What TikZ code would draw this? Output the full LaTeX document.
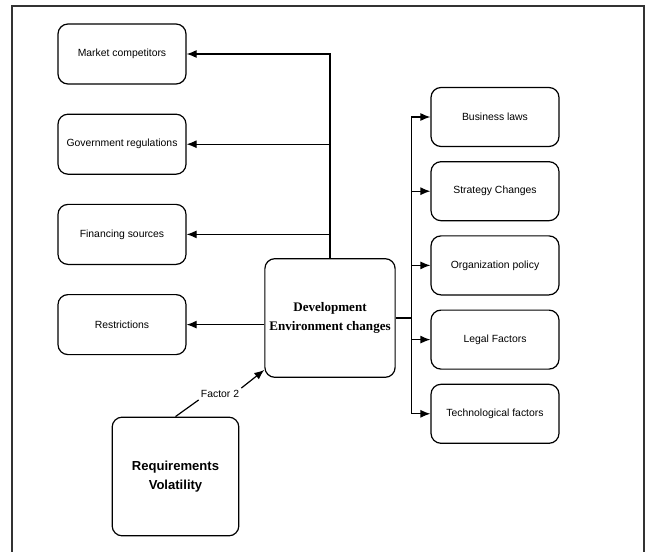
\documentclass[tikz,border=0pt]{standalone}
\usepackage{fontspec}
\setmainfont{Liberation Sans}
\newfontfamily\timesfont{Liberation Serif}
\usetikzlibrary{arrows.meta,positioning,calc}

\begin{document}
\begin{tikzpicture}[
  x=0.75pt, y=-0.75pt,
  font=\fontsize{7.8}{9}\selectfont,
  node distance=21.75pt,
  item/.style={draw, rounded corners=7.5pt, align=center, minimum width=96pt, minimum height=45pt, line width=0.9pt},
  core/.style={draw, rounded corners=7.5pt, align=center, minimum width=96pt, minimum height=89pt, line width=0.9pt},
  arrow/.style={-{Latex[length=7.5pt,width=6pt]}, line width=0.9pt}
]
\useasboundingbox (0,0) rectangle (656,552);
% outer frame
\draw[black!80, line width=1pt] (12,552) -- (12,6) -- (644,6) -- (644,552);

% left column
\node[item] (market) at (122,54) {Market competitors};
\node[item, below=of market] (gov) {Government regulations};
\node[item, below=of gov] (finance) {Financing sources};
\node[item, below=of finance] (restr) {Restrictions};

% right column
\node[item, minimum height=44.25pt] (biz) at (495,117) {Business laws};
\node[item, minimum height=44.25pt, below=10.5pt of biz] (strat) {Strategy Changes};
\node[item, minimum height=44.25pt, below=10.5pt of strat] (org) {Organization policy};
\node[item, minimum height=44.25pt, below=10.5pt of org] (legal) {Legal Factors};
\node[item, minimum height=44.25pt, below=10.5pt of legal] (tech) {Technological factors};

% centre and source
\node[core, font=\timesfont\bfseries\fontsize{9.8}{14}\selectfont] (dev) at (330,318) {Development\\Environment changes};
\node[core, minimum width=95pt, font=\bfseries\fontsize{9.8}{14}\selectfont] (req) at (175.5,476.5) {Requirements\\Volatility};
\node[inner sep=1.5pt] (f2) at (220,394) {Factor 2};

\draw[arrow] (dev.north) |- (market);
\draw[arrow] (dev.north) |- (gov);
\draw[arrow] (dev.north) |- (finance);
\draw[arrow] (dev.west |- restr.east) -- (restr.east);

\coordinate (hub) at ($(dev.east)+(16,0)$);
\draw[arrow] (dev.east) -- (hub) |- (biz.west);
\draw[arrow] (hub) |- (strat.west);
\draw[arrow] (hub) |- (org.west);
\draw[arrow] (hub) |- (legal.west);
\draw[arrow] (hub) |- (tech.west);

\draw[line width=0.9pt] (req.north) -- (f2.south west);
\draw[arrow] (f2.north east) -- ($(dev.south west)+(0,-8)$);
\end{tikzpicture}
\end{document}
